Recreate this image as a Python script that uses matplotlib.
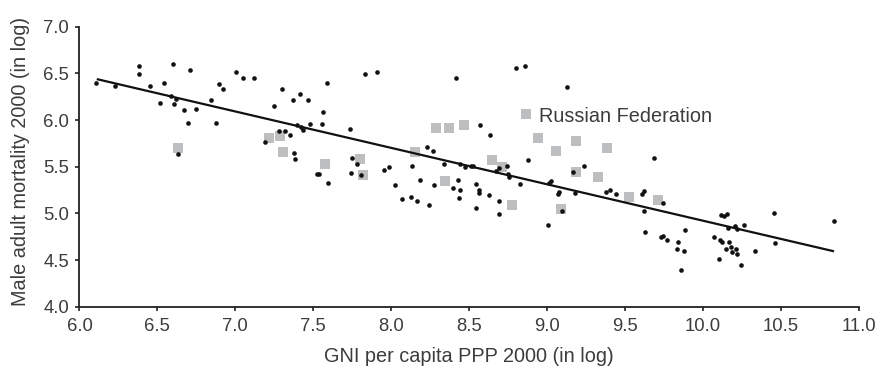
import matplotlib
matplotlib.use("Agg")
import matplotlib.pyplot as plt
import numpy as np

plt.rcParams['font.family'] = ['Liberation Sans', 'DejaVu Sans']

# Black dots: other countries
dots_x = [6.107, 6.23, 6.38, 6.38, 6.453, 6.52, 6.545, 6.603, 6.59, 6.62, 6.605, 6.71, 6.67, 6.697,
          6.751, 6.633, 6.845, 6.876, 6.897, 6.918, 7.002, 7.047, 7.122, 7.193, 7.247, 7.283, 7.30,
          7.322, 7.352, 7.373, 7.38, 7.382,
          7.413, 7.467, 7.398, 7.42, 7.432, 7.48, 7.554, 7.561, 7.589, 7.522, 7.539, 7.595, 7.738,
          7.747, 7.783, 7.741, 7.807, 7.83, 7.912, 7.952, 7.987, 8.025, 8.068, 8.13, 8.132, 8.166,
          8.183, 8.23, 8.271, 8.245, 8.273, 8.34, 8.417, 8.4, 8.43, 8.44, 8.44, 8.438, 8.477, 8.513,
          8.528, 8.543, 8.564, 8.564, 8.545, 8.571, 8.626, 8.637, 8.673, 8.695, 8.693, 8.693, 8.746,
          8.753, 8.757, 8.802, 8.862, 8.827, 8.877, 9.005, 9.011, 9.024, 9.069, 9.08, 9.099, 9.131,
          9.17, 9.183,
          9.236, 9.379, 9.405, 9.443, 9.608, 9.623, 9.621, 9.632, 9.689, 9.743, 9.732, 9.745, 9.769,
          9.844, 9.833, 9.888, 9.88, 9.858, 10.075, 10.102, 10.115, 10.134, 10.154, 10.111, 10.124,
          10.164, 10.167, 10.147, 10.182, 10.188, 10.216, 10.218, 10.205, 10.222, 10.267, 10.244,
          10.338, 10.458, 10.464, 10.843]
dots_y = [6.40, 6.364, 6.575, 6.496, 6.368, 6.18, 6.40, 6.604, 6.26, 6.225, 6.17, 6.536, 6.107, 5.968,
          6.118, 5.636, 6.21, 5.968, 6.386, 6.336, 6.518, 6.446, 6.446, 5.768, 6.146, 5.886, 6.332,
          5.886, 5.843, 6.214, 5.646, 5.582,
          6.279, 6.211, 5.946, 5.929, 5.896, 5.954, 5.954, 6.089, 6.393, 5.418, 5.418, 5.329, 5.9,
          5.589, 5.532, 5.432, 5.411, 6.489, 6.518, 5.461, 5.5, 5.3, 5.154, 5.175, 5.507, 5.136,
          5.361, 5.714, 5.664, 5.093, 5.304, 5.529, 6.454, 5.275, 5.357, 5.532, 5.254, 5.164, 5.5, 5.511,
          5.507, 5.311, 5.25, 5.214, 5.054, 5.95, 5.196, 5.836, 5.457, 5.486, 5.136, 4.989, 5.511,
          5.421, 5.393, 6.557, 6.575, 5.314, 5.575, 4.879, 5.321, 5.35, 5.207, 5.232, 5.029, 6.35,
          5.446, 5.221,
          5.507, 5.225, 5.246, 5.204, 5.204, 5.239, 5.025, 4.8, 5.596, 5.111, 4.75, 4.757, 4.718,
          4.693, 4.614, 4.818, 4.6, 4.396, 4.743, 4.514, 4.986, 4.968, 4.989, 4.711, 4.696,
          4.843, 4.693, 4.614, 4.643, 4.589, 4.621, 4.564, 4.861, 4.832, 4.875, 4.45,
          4.6, 5.004, 4.679, 4.914]

# Grey squares: transition countries
sq_x = [6.631, 7.217, 7.285, 7.305, 7.576, 7.8, 7.818, 8.153, 8.286, 8.372, 8.466, 8.344, 8.648,
        8.712, 8.774, 8.864, 8.941, 9.056, 9.088, 9.187, 9.187, 9.384, 9.326, 9.529, 9.715]
sq_y = [5.704, 5.81, 5.829, 5.657, 5.529, 5.586, 5.411, 5.657, 5.914, 5.914, 5.946, 5.346, 5.575,
        5.493, 5.089, 6.064, 5.811, 5.671, 5.046, 5.779, 5.446, 5.7, 5.393, 5.179, 5.146]

# Fitted line
fit_x = [6.118, 10.836]
fit_slope = -0.39
fit_intercept = 8.822

label_x = 8.864
label_y = 6.064
label_text = "Russian Federation"

xticks = [6.0, 6.5, 7.0, 7.5, 8.0, 8.5, 9.0, 9.5, 10.0, 10.5, 11.0]
yticks = [4.0, 4.5, 5.0, 5.5, 6.0, 6.5, 7.0]

txt = '#3c3c3c'
FS_T = 13.3
FS_L = 14.3
fig = plt.figure(figsize=(8.8, 3.68), dpi=100)
ax = fig.add_axes([0.0903, 0.1666, 0.8853, 0.7608])

ax.scatter(sq_x, sq_y, marker='s', s=48, color='#bdbec0', linewidths=0, zorder=2)
ax.scatter(dots_x, dots_y, marker='o', s=11, color='#111111', linewidths=0, zorder=3)
fx = np.array(fit_x)
ax.plot(fx, fit_intercept + fit_slope * fx, color='#111111', lw=1.6, zorder=4)
ax.annotate(label_text, (label_x, label_y), xytext=(9.6, -5.9), textcoords='offset points',
            fontsize=FS_L, color=txt, va='baseline', ha='left')

ax.set_xlim(6.0, 11.0)
ax.set_ylim(4.0, 7.0)
ax.set_xticks(xticks)
ax.set_xticklabels([f"{v:.1f}" for v in xticks])
ax.set_yticks(yticks)
ax.set_yticklabels([f"{v:.1f}" for v in yticks])
for s in ['top', 'right']:
    ax.spines[s].set_visible(False)
for s in ['left', 'bottom']:
    ax.spines[s].set_color('#222222')
    ax.spines[s].set_linewidth(1.3)
ax.tick_params(axis='both', direction='out', length=3, width=1.2, color='#222222',
               labelsize=FS_T, labelcolor=txt)
ax.tick_params(axis='x', pad=5.0)
ax.tick_params(axis='y', pad=4.5)

fig.text(469 / 880, 1 - 362 / 368, "GNI per capita PPP 2000 (in log)", fontsize=FS_L,
         color=txt, ha='center', va='baseline')
fig.text(26.5 / 880, 1 - 161 / 368, "Male adult mortality 2000 (in log)", fontsize=FS_L,
         color=txt, ha='center', va='baseline', rotation=90, rotation_mode='anchor')

fig.savefig("out.png", dpi=100)
